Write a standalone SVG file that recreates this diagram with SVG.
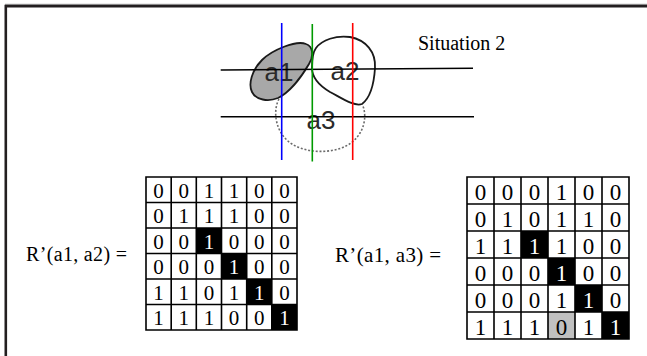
<svg xmlns="http://www.w3.org/2000/svg" width="647" height="356" viewBox="0 0 647 356">
  <style>
    .frame { fill: none; stroke: #231f20; stroke-width: 2.6; }
    .blob { stroke: #1a1a1a; stroke-width: 1.8; stroke-linejoin: round; }
    .region-label { font-family: "Liberation Sans", Arial, sans-serif; font-size: 26px; fill: #2b2b2b; text-anchor: middle; }
    .serif { font-family: "Liberation Serif", "Times New Roman", serif; fill: #000; }
    .cell { fill: #fff; }
    .dark { fill: #000; }
    .shade { fill: #c0c0c0; }
    .gridline { stroke: #000; stroke-width: 1.6; fill: none; }
    .d1 { font-family: "Liberation Serif", "Times New Roman", serif; font-size: 21px; text-anchor: middle; fill: #000; }
    .d2 { font-family: "Liberation Serif", "Times New Roman", serif; font-size: 23px; text-anchor: middle; fill: #000; }
    .inv { fill: #fff; }
    .scan { stroke-width: 1.6; fill: none; }
  </style>

  <rect width="647" height="356" fill="#fff"/>

  <!-- page frame (open on the right and bottom) -->
  <g id="frame">
    <line x1="5" y1="4.3" x2="647" y2="4.3" stroke="#9a9a9a" stroke-width="1"/>
    <path class="frame" d="M5.8,356 V6.1 H647"/>
  </g>

  <!-- regions a1, a2, a3 -->
  <g id="region-a3">
    <path d="M279,99 C272,112 276,134 292,144 C306,153 330,154 346,146 C362,138 368,120 363,106" fill="none" stroke="#6b6b6b" stroke-width="1.6" stroke-dasharray="2 1.8"/>
    <text class="region-label" x="321" y="129">a3</text>
  </g>
  <g id="region-a1">
    <path class="blob" fill="#a8a8a8" d="M306,44 C313,46 314,56 309,64 C302,76 290,92 278,98 C268,102 256,100 252,92 C248,84 252,70 262,60 C272,50 296,40 306,44 Z"/>
    <text class="region-label" x="279" y="81">a1</text>
  </g>
  <g id="region-a2">
    <path class="blob" fill="#fff" d="M316,48 C322,40 336,35 350,37 C366,40 376,52 375,68 C374,84 370,98 362,104 C354,107 340,97 330,92 C320,86 312,78 312,68 C312,60 313,52 316,48 Z"/>
    <text class="region-label" x="345" y="80">a2</text>
  </g>

  <!-- scan lines -->
  <g id="scan-lines">
    <line class="scan" x1="220.7" y1="70" x2="473" y2="68.3" stroke="#000"/>
    <line class="scan" x1="220.7" y1="116.7" x2="474" y2="116.7" stroke="#000"/>
    <line class="scan" x1="281.7" y1="23" x2="281.7" y2="160" stroke="#0000ff"/>
    <line class="scan" x1="312.3" y1="24" x2="312.3" y2="161.5" stroke="#009a00"/>
    <line class="scan" x1="352.7" y1="23" x2="352.7" y2="160" stroke="#ff0000"/>
  </g>

  <g id="title">
    <text class="serif" x="418" y="50" font-size="20">Situation 2</text>
  </g>

  <!-- matrix R'(a1, a2) -->
  <g id="matrix-a1-a2">
    <text class="serif" x="26" y="260.5" font-size="20" textLength="101">R’(a1, a2) =</text>
    <rect class="cell" x="146" y="177" width="151" height="153"/>
    <rect class="dark" x="196.3" y="228" width="25.2" height="25.5"/>
    <rect class="dark" x="221.5" y="253.5" width="25.2" height="25.5"/>
    <rect class="dark" x="246.7" y="279" width="25.1" height="25.5"/>
    <rect class="dark" x="271.8" y="304.5" width="25.2" height="25.5"/>
    <path class="gridline" d="M146,177 H297 V330 H146 Z M171.2,177 V330 M196.3,177 V330 M221.5,177 V330 M246.7,177 V330 M271.8,177 V330 M146,202.5 H297 M146,228 H297 M146,253.5 H297 M146,279 H297 M146,304.5 H297"/>
    <g class="d1">
      <text x="158.6" y="197.5">0</text><text x="183.75" y="197.5">0</text><text x="208.9" y="197.5">1</text><text x="234.1" y="197.5">1</text><text x="259.25" y="197.5">0</text><text x="284.4" y="197.5">0</text>
      <text x="158.6" y="223">0</text><text x="183.75" y="223">1</text><text x="208.9" y="223">1</text><text x="234.1" y="223">1</text><text x="259.25" y="223">0</text><text x="284.4" y="223">0</text>
      <text x="158.6" y="248.5">0</text><text x="183.75" y="248.5">0</text><text class="inv" x="208.9" y="248.5">1</text><text x="234.1" y="248.5">0</text><text x="259.25" y="248.5">0</text><text x="284.4" y="248.5">0</text>
      <text x="158.6" y="274">0</text><text x="183.75" y="274">0</text><text x="208.9" y="274">0</text><text class="inv" x="234.1" y="274">1</text><text x="259.25" y="274">0</text><text x="284.4" y="274">0</text>
      <text x="158.6" y="299.5">1</text><text x="183.75" y="299.5">1</text><text x="208.9" y="299.5">0</text><text x="234.1" y="299.5">1</text><text class="inv" x="259.25" y="299.5">1</text><text x="284.4" y="299.5">0</text>
      <text x="158.6" y="325">1</text><text x="183.75" y="325">1</text><text x="208.9" y="325">1</text><text x="234.1" y="325">0</text><text x="259.25" y="325">0</text><text class="inv" x="284.4" y="325">1</text>
    </g>
  </g>

  <!-- matrix R'(a1, a3) -->
  <g id="matrix-a1-a3">
    <text class="serif" x="335" y="262" font-size="21" textLength="106">R’(a1, a3) =</text>
    <rect class="cell" x="467" y="177" width="162" height="162"/>
    <rect class="dark" x="521" y="231" width="27" height="27"/>
    <rect class="dark" x="548" y="258" width="27" height="27"/>
    <rect class="dark" x="575" y="285" width="27" height="27"/>
    <rect class="dark" x="602" y="312" width="27" height="27"/>
    <rect class="shade" x="548" y="312" width="27" height="27"/>
    <path class="gridline" d="M467,177 H629 V339 H467 Z M494,177 V339 M521,177 V339 M548,177 V339 M575,177 V339 M602,177 V339 M467,204 H629 M467,231 H629 M467,258 H629 M467,285 H629 M467,312 H629"/>
    <g class="d2">
      <text x="480.5" y="199.5">0</text><text x="507.5" y="199.5">0</text><text x="534.5" y="199.5">0</text><text x="561.5" y="199.5">1</text><text x="588.5" y="199.5">0</text><text x="615.5" y="199.5">0</text>
      <text x="480.5" y="226.5">0</text><text x="507.5" y="226.5">1</text><text x="534.5" y="226.5">0</text><text x="561.5" y="226.5">1</text><text x="588.5" y="226.5">1</text><text x="615.5" y="226.5">0</text>
      <text x="480.5" y="253.5">1</text><text x="507.5" y="253.5">1</text><text class="inv" x="534.5" y="253.5">1</text><text x="561.5" y="253.5">1</text><text x="588.5" y="253.5">0</text><text x="615.5" y="253.5">0</text>
      <text x="480.5" y="280.5">0</text><text x="507.5" y="280.5">0</text><text x="534.5" y="280.5">0</text><text class="inv" x="561.5" y="280.5">1</text><text x="588.5" y="280.5">0</text><text x="615.5" y="280.5">0</text>
      <text x="480.5" y="307.5">0</text><text x="507.5" y="307.5">0</text><text x="534.5" y="307.5">0</text><text x="561.5" y="307.5">1</text><text class="inv" x="588.5" y="307.5">1</text><text x="615.5" y="307.5">0</text>
      <text x="480.5" y="334.5">1</text><text x="507.5" y="334.5">1</text><text x="534.5" y="334.5">1</text><text x="561.5" y="334.5">0</text><text x="588.5" y="334.5">1</text><text class="inv" x="615.5" y="334.5">1</text>
    </g>
  </g>
</svg>
